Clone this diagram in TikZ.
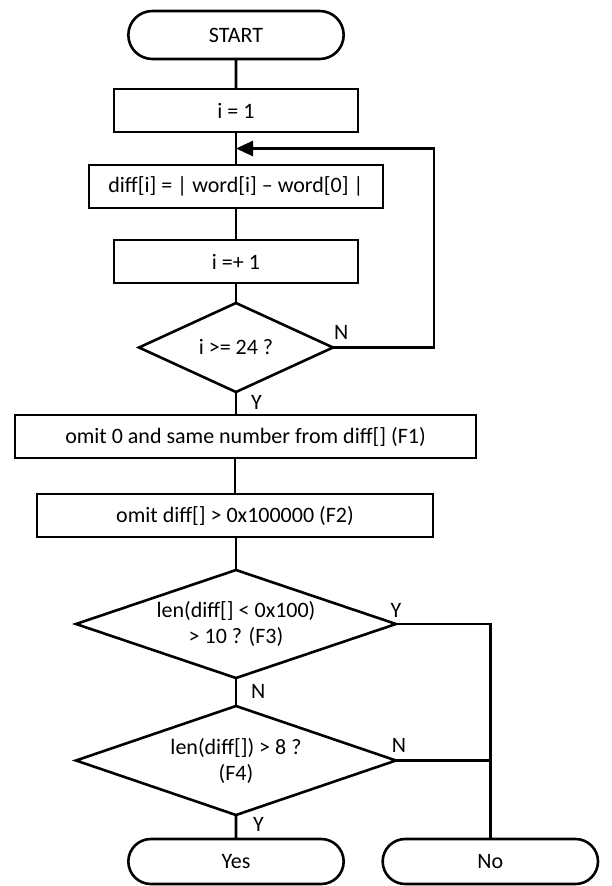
\documentclass[tikz,border=0pt]{standalone}
\usepackage{fontspec}
\setmainfont{Carlito}
\usetikzlibrary{arrows.meta,positioning,shapes.geometric,shapes.misc}

\begin{document}
\begin{tikzpicture}[
            inicio/.style={draw, rounded rectangle, minimum width=222pt, minimum height=48pt},
            proceso/.style={draw, minimum height=43pt},
            decision/.style={draw, diamond, aspect=3, align=center, inner sep=0pt},
            etiqueta/.style={inner sep=1pt},
            flecha/.style={-{Triangle[length=17pt,width=15pt]}},
            every node/.style={font=\fontsize{22}{26}\selectfont, outer sep=0pt},
            line width=2.6pt
        ]
\useasboundingbox (0pt,0pt) rectangle (612pt,-886pt);

\node[inicio] (start) at (236pt,-35pt) {START};
\node[proceso, minimum width=244pt, below=30pt of start] (i1) {i = 1};
\node[proceso, minimum width=294pt, below=33pt of i1] (diff) {diff[i] = | word[i] – word[0] |};
\node[proceso, minimum width=244pt, below=32pt of diff] (inc) {i =+ 1};
\node[decision, minimum width=194pt, minimum height=89pt, below=20pt of inc] (d1) {i >= 24 ?};
\node[proceso, minimum width=461pt, below=23pt of d1, xshift=9.5pt] (f1) {omit 0 and same number from diff[] (F1)};
\node[proceso, minimum width=396pt, below=36pt of f1, xshift=-10.5pt] (f2) {omit diff[] > 0x100000 (F2)};
\node[decision, minimum width=320pt, minimum height=108pt, below=33pt of f2, xshift=1pt] (f3) {len(diff[] < 0x100)\\> 10 ? (F3)};
\node[decision, minimum width=320pt, minimum height=109pt, below=28pt of f3] (f4) {len(diff[]) > 8 ?\\(F4)};
\node[inicio, minimum height=45pt, below=24pt of f4] (yes) {Yes};
\node[inicio, minimum height=45pt, right=39pt of yes] (no) {No};
\coordinate[below=16.5pt of i1] (retorno);

% etiquetas de las ramas
\node[etiqueta, above right=7pt and 0pt of d1.east] (d1n) {N};
\node[etiqueta, below right=2pt and 14pt of d1.south] (d1y) {Y};
\node[etiqueta, above=6pt of f3.east] (f3y) {Y};
\node[etiqueta, below right=5pt and 14pt of f3.south] (f3n) {N};
\node[etiqueta, above=7pt of f4.east, xshift=3pt] (f4n) {N};
\node[etiqueta, below right=1pt and 16pt of f4.south] (f4y) {Y};

\draw (start) -- (i1);
\draw (i1) -- (diff);
\draw (diff) -- (inc);
\draw (inc) -- (d1);
\draw[flecha] (d1.east) -- ++(101pt,0) |- (retorno);
\draw (d1.south) -- (d1.south |- f1.north);
\draw (f2.north |- f1.south) -- (f2.north);
\draw (f3.north |- f2.south) -- (f3.north);
\draw (f3) -- (f4);
\draw (f4) -- (yes);
\draw (f3.east) -| (no.north);
\draw (f4.east) -- (f4.east -| no.north);
\end{tikzpicture}
\end{document}
